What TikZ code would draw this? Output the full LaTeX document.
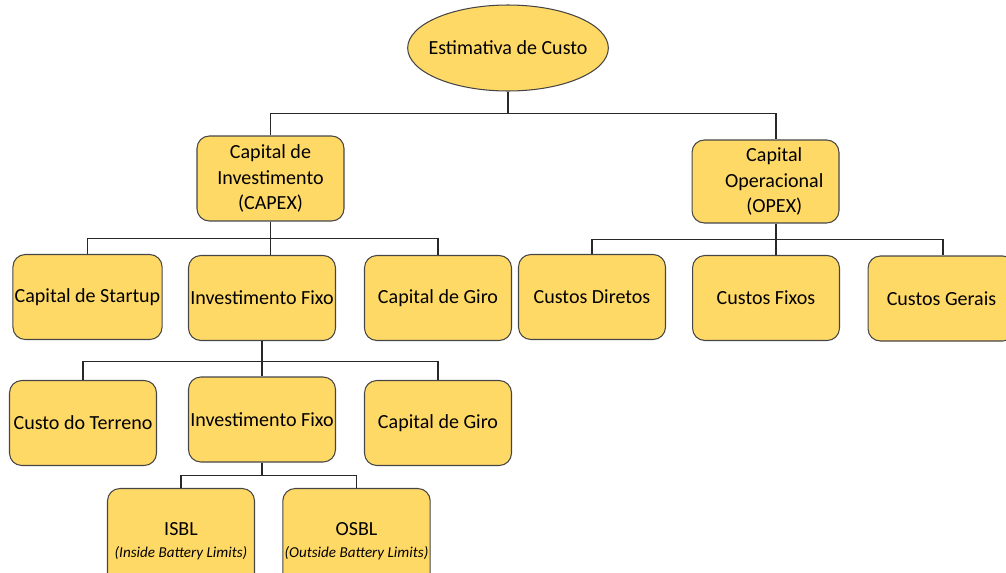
\documentclass[tikz,border=0pt]{standalone}
\usepackage{fontspec}
\setmainfont{Carlito}
\usepackage{tikz}
\usetikzlibrary{shapes.geometric, positioning}

\definecolor{boxfill}{RGB}{255,217,102}
\definecolor{boxline}{RGB}{70,70,70}
\definecolor{linkgray}{RGB}{40,40,40}

\begin{document}
\begin{tikzpicture}[
    x=0.02cm, y=-0.02cm,
    every node/.style={font=\fontsize{11.4}{14.6}\selectfont, text=black},
    box/.style={draw=boxline, fill=boxfill, rounded corners=7pt, align=center,
                minimum width=2.94cm, minimum height=1.7cm, inner sep=1pt, line width=0.6pt},
    link/.style={draw=linkgray, line width=0.6pt}
]
\clip (0,0) rectangle (1006,572);

% Nodes
\node (root) [ellipse, draw=boxline, fill=boxfill, line width=0.6pt, inner xsep=-0.17cm, inner ysep=0pt,
              minimum width=4cm, minimum height=1.72cm] at (508,48) {Estimativa de Custo};

\node (capex) [box] at (270.5,178.5) {Capital de\\Investimento\\(CAPEX)};
\node (opex) [box, minimum height=1.66cm] at (765.5,181.5) {\hspace*{0.35cm}Capital\\\hspace*{0.35cm}Operacional\\\hspace*{0.35cm}(OPEX)};

\node (startup) [box] at (87.5,297) {Capital de Startup};
\node (invfixo) [box] at (262,298) {Investimento Fixo};
\node (giro) [box] at (438,298) {Capital de Giro};

\node (diretos) [box] at (592,297) {Custos Diretos};
\node (fixos) [box] at (766,298) {Custos Fixos};
\node (gerais) [box] at (941.5,298.5) {Custos Gerais};

\node (terreno) [box] at (83,423) {Custo do Terreno};
\node (invfixob) [box] at (262,419.5) {Investimento Fixo};
\node (girob) [box] at (438,423) {Capital de Giro};

\node (isbl) [box, minimum height=2.1cm] at (181,541)
      {ISBL\\[-2pt]{\fontsize{8.6}{10}\selectfont\itshape (Inside Battery Limits)}};
\node (osbl) [box, minimum height=2.1cm] at (356.5,541)
      {OSBL\\[-2pt]{\fontsize{8.6}{10}\selectfont\itshape (Outside Battery Limits)}};

% Connectors
\draw [link] (root.south) -- ++(0,22) -| (capex.north);
\draw [link] (root.south) -- ++(0,22) -| ([xshift=0.21cm]opex.north);

\draw [link] (capex.south) -- ++(0,17) -| (startup.north);
\draw [link] (capex.south) -- (capex.south |- invfixo.north);
\draw [link] (capex.south) -- ++(0,17) -| (giro.north);

\draw [link] ([xshift=0.21cm]opex.south) -- ++(0,16) -| (diretos.north);
\draw [link] ([xshift=0.21cm]opex.south) -- ([xshift=0.21cm]opex.south |- fixos.north);
\draw [link] ([xshift=0.21cm]opex.south) -- ++(0,16) -| ([xshift=0.03cm]gerais.north);

\draw [link] (invfixo.south) -- ++(0,20) -| (terreno.north);
\draw [link] (invfixo.south) -- (invfixob.north);
\draw [link] (invfixo.south) -- ++(0,20) -| (girob.north);

\draw [link] (invfixob.south) -- ++(0,13) -| (isbl.north);
\draw [link] (invfixob.south) -- ++(0,13) -| (osbl.north);

\end{tikzpicture}
\end{document}
